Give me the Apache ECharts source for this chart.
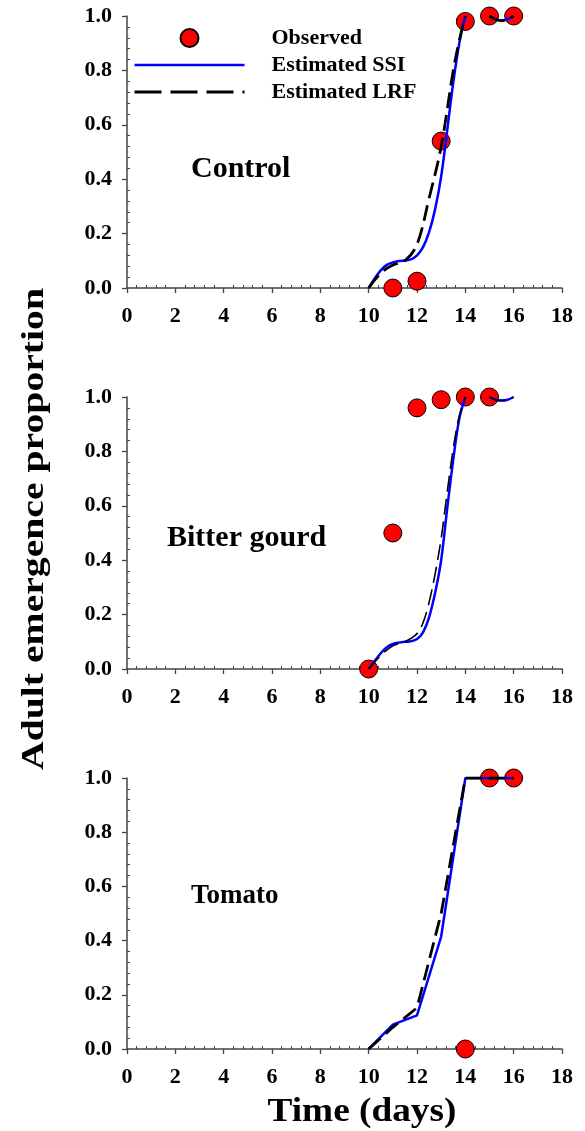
<!DOCTYPE html>
<html><head><meta charset="utf-8">
<script src="https://cdn.jsdelivr.net/npm/echarts@6/dist/echarts.min.js"></script>
<style>html,body{margin:0;padding:0;background:#fff}#c{width:585px;height:1131px}</style>
</head><body><div id="c"></div>
<script>
// ---------- data ----------
const panelNames = ['Control', 'Bitter gourd', 'Tomato'];
const xTickValues = [0, 2, 4, 6, 8, 10, 12, 14, 16, 18];
const yTickValues = [0.0, 0.2, 0.4, 0.6, 0.8, 1.0];

// Observed
const controlObsDays = [11, 12, 13, 14, 15, 16];
const controlObs     = [0.0, 0.025, 0.54, 0.98, 1.0, 1.0];
const gourdObsDays   = [10, 11, 12, 13, 14, 15];
const gourdObs       = [0.0, 0.50, 0.96, 0.99, 1.0, 1.0];
const tomatoObsDays  = [14, 15, 16];
const tomatoObs      = [0.0, 1.0, 1.0];

// Estimated SSI
const controlSsiDays = [10, 10.25, 10.5, 10.75, 11, 11.25, 11.5, 11.75, 12, 12.25, 12.5, 12.75, 13, 13.25, 13.5, 13.75, 14];
const controlSsi     = [0, 0.035, 0.065, 0.085, 0.094, 0.099, 0.101, 0.105, 0.12, 0.15, 0.205, 0.29, 0.41, 0.58, 0.755, 0.90, 1.0];
const controlSsiTailDays = [15, 15.25, 15.5, 15.75, 16];
const controlSsiTail     = [1.0, 0.988, 0.983, 0.988, 1.0];

const gourdSsiDays = [10, 10.25, 10.5, 10.75, 11, 11.25, 11.5, 11.75, 12, 12.25, 12.5, 12.75, 13, 13.25, 13.5, 13.75, 14];
const gourdSsi     = [0, 0.03, 0.058, 0.08, 0.092, 0.097, 0.100, 0.102, 0.11, 0.135, 0.19, 0.28, 0.40, 0.59, 0.77, 0.92, 1.0];
const gourdSsiTailDays = [15, 15.25, 15.5, 15.75, 16];
const gourdSsiTail     = [1.0, 0.99, 0.987, 0.99, 1.0];

const tomatoSsiDays = [10, 11, 12, 13, 14, 15, 16];
const tomatoSsi     = [0, 0.09, 0.124, 0.415, 1.0, 1.0, 1.0];

// Estimated LRF
const controlLrfDays = [10, 10.5, 11, 11.5, 12, 12.5, 13, 13.5, 13.75, 14];
const controlLrf     = [0, 0.055, 0.085, 0.10, 0.16, 0.33, 0.52, 0.80, 0.91, 1.0];
const controlLrfTailDays = [15, 15.25, 15.5, 15.75, 16];
const controlLrfTail     = [1.0, 0.988, 0.983, 0.988, 1.0];

const gourdLrfDays = [10, 10.5, 11, 11.5, 12, 12.25, 12.5, 12.75, 13, 13.25, 13.5, 13.75, 14];
const gourdLrf     = [0, 0.05, 0.085, 0.10, 0.13, 0.17, 0.245, 0.35, 0.48, 0.65, 0.81, 0.93, 1.0];
const gourdLrfTailDays = [15, 15.25, 15.5, 15.75, 16];
const gourdLrfTail     = [1.0, 0.99, 0.987, 0.99, 1.0];

const tomatoLrfDays = [10, 11, 12, 13, 14, 15, 16];
const tomatoLrf     = [0, 0.08, 0.152, 0.50, 1.0, 1.0, 1.0];

// ---------- chart ----------
const zip = (xs, ys) => xs.map((x, i) => [x, ys[i]]);
const FONT = 'Liberation Serif';
const AX = '#444';
const grids = [
  {left: 127, top: 16, width: 435, height: 272},
  {left: 127, top: 397, width: 435, height: 272},
  {left: 127, top: 778, width: 435, height: 271}
];
const xAxes = grids.map((g, i) => ({
  type: 'value', gridIndex: i, min: 0, max: 18, interval: 2,
  axisLine: {show: true, lineStyle: {color: AX, width: 1.5}},
  axisTick: {show: true, length: 5, lineStyle: {color: AX, width: 1.3}},
  minorTick: {show: true, splitNumber: 5, length: -3, lineStyle: {color: AX, width: 1}},
  splitLine: {show: false}, minorSplitLine: {show: false},
  axisLabel: {margin: 17, color: '#000', fontFamily: FONT, fontWeight: 'bold', fontSize: 22,
    formatter: v => xTickValues.includes(v) ? String(v) : ''}
}));
const yAxes = grids.map((g, i) => ({
  type: 'value', gridIndex: i, min: 0, max: 1, interval: 0.2,
  axisLine: {show: true, lineStyle: {color: AX, width: 1.5}},
  axisTick: {show: true, length: 5, lineStyle: {color: AX, width: 1.3}},
  minorTick: {show: true, splitNumber: 5, length: -3, lineStyle: {color: AX, width: 1}},
  splitLine: {show: false}, minorSplitLine: {show: false},
  axisLabel: {margin: 15, color: '#000', fontFamily: FONT, fontWeight: 'bold', fontSize: 22,
    formatter: v => yTickValues.some(t => Math.abs(t - v) < 1e-9) ? v.toFixed(1) : ''}
}));

const obs = [zip(controlObsDays, controlObs), zip(gourdObsDays, gourdObs), zip(tomatoObsDays, tomatoObs)];
const ssi = [
  [zip(controlSsiDays, controlSsi), zip(controlSsiTailDays, controlSsiTail)],
  [zip(gourdSsiDays, gourdSsi), zip(gourdSsiTailDays, gourdSsiTail)],
  [zip(tomatoSsiDays, tomatoSsi)]
];
const lrf = [
  [zip(controlLrfDays, controlLrf), zip(controlLrfTailDays, controlLrfTail)],
  [zip(gourdLrfDays, gourdLrf), zip(gourdLrfTailDays, gourdLrfTail)],
  [zip(tomatoLrfDays, tomatoLrf)]
];
const smoothFlags = [true, true, false];
const lrfWidths = [2.8, 1.6, 2.8];

const series = [];
for (let i = 0; i < 3; i++) {
  series.push({
    name: 'Observed', type: 'scatter', xAxisIndex: i, yAxisIndex: i, z: 2, clip: false,
    symbol: 'circle', symbolSize: 18,
    itemStyle: {color: '#ff0000', borderColor: '#000', borderWidth: 1, opacity: 1},
    data: obs[i]
  });
  ssi[i].forEach(seg => series.push({
    name: 'Estimated SSI', type: 'line', xAxisIndex: i, yAxisIndex: i, z: 3,
    showSymbol: false, symbol: 'none', smooth: smoothFlags[i] ? 0.35 : false,
    lineStyle: {color: '#0000ff', width: 2.5}, itemStyle: {color: '#0000ff'},
    data: seg
  }));
  lrf[i].forEach(seg => series.push({
    name: 'Estimated LRF', type: 'line', xAxisIndex: i, yAxisIndex: i, z: 4,
    showSymbol: false, symbol: 'none', smooth: smoothFlags[i] ? 0.35 : false,
    lineStyle: {color: '#000', width: lrfWidths[i], type: [16, 7]}, itemStyle: {color: '#000'},
    data: seg
  }));
}

const hidden = {color: 'rgba(0,0,0,0)', borderWidth: 0, borderColor: 'rgba(0,0,0,0)'};
const chart = echarts.init(document.getElementById('c'), null, {renderer: 'canvas'});
chart.setOption({
  animation: false,
  backgroundColor: '#fff',
  grid: grids,
  xAxis: xAxes,
  yAxis: yAxes,
  legend: {
    orient: 'vertical', left: 133, top: 27, padding: 0, itemWidth: 110, itemHeight: 18, itemGap: 5,
    textStyle: {fontFamily: FONT, fontWeight: 'bold', fontSize: 22, color: '#000', padding: [0, 0, 0, 22]},
    selectedMode: false,
    data: [
      {name: 'Observed'},
      {name: 'Estimated SSI', lineStyle: {width: 2.5, color: '#0000ff'}, itemStyle: hidden},
      {name: 'Estimated LRF', lineStyle: {width: 3, color: '#000', type: [27, 9]}, itemStyle: hidden}
    ]
  },
  graphic: [
    {type: 'text', x: 35, y: 529, rotation: Math.PI / 2, scaleX: 1.28,
      style: {text: 'Adult emergence proportion', font: 'bold 31px "Liberation Serif"', fill: '#000', align: 'center', verticalAlign: 'middle'}},
    {type: 'text', x: 362, y: 1112, scaleX: 1.13,
      style: {text: 'Time (days)', font: 'bold 33px "Liberation Serif"', fill: '#000', align: 'center', verticalAlign: 'middle'}},
    {type: 'text', x: 191, y: 169,
      style: {text: panelNames[0], font: 'bold 30px "Liberation Serif"', fill: '#000', align: 'left', verticalAlign: 'middle'}},
    {type: 'text', x: 167, y: 538,
      style: {text: panelNames[1], font: 'bold 30px "Liberation Serif"', fill: '#000', align: 'left', verticalAlign: 'middle'}},
    {type: 'text', x: 191, y: 896,
      style: {text: panelNames[2], font: 'bold 27px "Liberation Serif"', fill: '#000', align: 'left', verticalAlign: 'middle'}}
  ],
  series: series
});
</script>
</body></html>
